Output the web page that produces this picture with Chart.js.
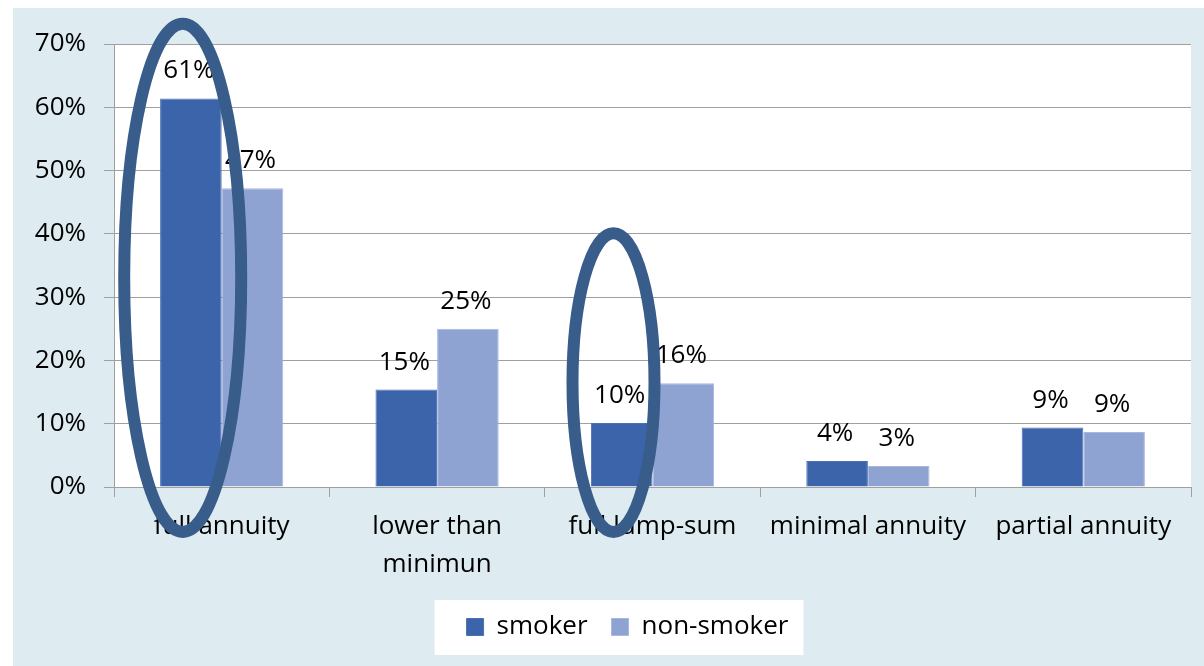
<!DOCTYPE html>
<html lang="en">
<head>
    <meta charset="UTF-8">
    <title>Annuity choice: smoker vs non-smoker</title>
    <script src="https://cdn.jsdelivr.net/npm/chart.js"></script>
    <style>
        html, body {
            margin: 0;
            padding: 0;
            background-color: #ffffff;
        }
        .chart-container {
            position: relative;
            width: 1204px;
            height: 666px;
        }
    </style>
</head>
<body>
    <div class="chart-container">
        <canvas id="annuityChart"></canvas>
    </div>

    <script>
        // Data (percent)
        const categories = ['full annuity', ['lower than', 'minimun'], 'full lump-sum', 'minimal annuity', 'partial annuity'];
        const smoker = [61.4, 15.4, 10.1, 4.1, 9.4];
        const nonSmoker = [47.2, 25.0, 16.4, 3.3, 8.7];
        const yTicks = [0, 10, 20, 30, 40, 50, 60, 70];

        const FONT = '"Open Sans", Lato, sans-serif';

        // backgrounds: light blue panel, white plot area, white legend box
        const backgroundPlugin = {
            id: 'backgrounds',
            afterLayout(chart) {
                // legend sits a little right of the canvas centre in the original
                chart.legend.left += 18;
                chart.legend.right += 18;
            },
            beforeDraw(chart) {
                const ctx = chart.ctx;
                const a = chart.chartArea;
                ctx.save();
                ctx.fillStyle = '#ffffff';
                ctx.fillRect(0, 0, chart.width, chart.height);
                ctx.fillStyle = '#deebf0';
                ctx.fillRect(13, 8, chart.width - 13, chart.height - 8);
                ctx.fillStyle = '#ffffff';
                ctx.fillRect(a.left, a.top, a.right - a.left, a.bottom - a.top);
                const lg = chart.legend;
                if (lg && lg.legendHitBoxes.length) {
                    const first = lg.legendHitBoxes[0];
                    const last = lg.legendHitBoxes[lg.legendHitBoxes.length - 1];
                    const x0 = first.left - 32;
                    const x1 = last.left + last.width + 15;
                    const yc = first.top + first.height / 2;
                    ctx.fillRect(x0, yc - 27, x1 - x0, 55);
                }
                ctx.restore();
            }
        };

        // percent labels above each bar
        const valueLabelPlugin = {
            id: 'valueLabels',
            afterDatasetsDraw(chart) {
                const ctx = chart.ctx;
                ctx.save();
                ctx.font = '26px ' + FONT;
                ctx.fillStyle = '#000000';
                ctx.textAlign = 'center';
                ctx.textBaseline = 'alphabetic';
                chart.data.datasets.forEach((ds, i) => {
                    chart.getDatasetMeta(i).data.forEach((bar, j) => {
                        ctx.fillText(Math.round(ds.data[j]) + '%', bar.x - 2, bar.y - 20);
                    });
                });
                ctx.restore();
            }
        };

        // hand-drawn highlight ellipses around the smoker bars
        const highlightPlugin = {
            id: 'highlights',
            afterDraw(chart) {
                const x = chart.scales.x;
                const y = chart.scales.y;
                const marks = [
                    { cat: 0, top: 73.2, bottom: -7.1, rx: 58.5 },
                    { cat: 2, top: 40.1, bottom: -7.1, rx: 41 }
                ];
                const ctx = chart.ctx;
                ctx.save();
                ctx.strokeStyle = '#385d8a';
                ctx.lineWidth = 12;
                marks.forEach(m => {
                    const cx = x.getPixelForValue(m.cat) - 39;
                    const yTop = y.getPixelForValue(m.top);
                    const yBot = y.getPixelForValue(m.bottom);
                    ctx.beginPath();
                    ctx.ellipse(cx, (yTop + yBot) / 2, m.rx, (yBot - yTop) / 2, 0, 0, Math.PI * 2);
                    ctx.stroke();
                });
                ctx.restore();
            }
        };

        new Chart(document.getElementById('annuityChart'), {
            type: 'bar',
            data: {
                labels: categories,
                datasets: [
                    {
                        label: 'smoker',
                        data: smoker,
                        backgroundColor: '#3c64ab',
                        borderColor: '#4a70b3',
                        borderWidth: 1
                    },
                    {
                        label: 'non-smoker',
                        data: nonSmoker,
                        backgroundColor: '#8fa3d3',
                        borderColor: '#a7b7de',
                        borderWidth: 1
                    }
                ]
            },
            options: {
                responsive: true,
                maintainAspectRatio: false,
                animation: false,
                devicePixelRatio: 1,
                layout: {
                    padding: { top: 44, right: 13, left: 28, bottom: 16 }
                },
                datasets: {
                    bar: {
                        categoryPercentage: 0.572,
                        barPercentage: 1.0
                    }
                },
                scales: {
                    x: {
                        grid: {
                            offset: true,
                            drawOnChartArea: false,
                            drawTicks: true,
                            tickLength: 10,
                            color: '#a0a0a0'
                        },
                        border: { color: '#a0a0a0', width: 1 },
                        ticks: {
                            color: '#000000',
                            font: { family: FONT, size: 26, lineHeight: 1.46 },
                            padding: 11,
                            maxRotation: 0,
                            autoSkip: false
                        },
                        afterFit(scale) { scale.height = 103; }
                    },
                    y: {
                        min: 0,
                        max: 70,
                        afterBuildTicks(scale) {
                            scale.ticks = yTicks.map(v => ({ value: v }));
                        },
                        grid: {
                            color: '#a0a0a0',
                            tickLength: 10
                        },
                        border: { color: '#a0a0a0', width: 1 },
                        ticks: {
                            color: '#000000',
                            font: { family: FONT, size: 26 },
                            padding: 18,
                            callback: v => v + '%'
                        },
                        afterFit(scale) { scale.width = 86; }
                    }
                },
                plugins: {
                    legend: {
                        position: 'bottom',
                        labels: {
                            color: '#000000',
                            font: { family: FONT, size: 26 },
                            boxWidth: 17,
                            boxHeight: 17,
                            padding: 24
                        }
                    },
                    tooltip: { enabled: false }
                }
            },
            plugins: [backgroundPlugin, valueLabelPlugin, highlightPlugin]
        });
    </script>
</body>
</html>
